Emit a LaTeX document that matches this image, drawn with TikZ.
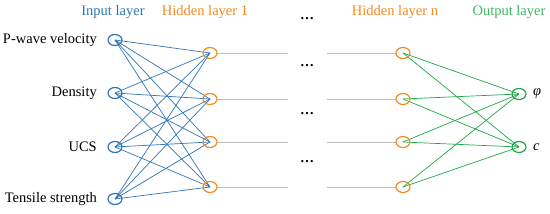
\documentclass[tikz,border=0pt]{standalone}
\usepackage{fontspec}
\setmainfont{Liberation Serif}
\usetikzlibrary{calc,shapes.geometric}
\definecolor{cblue}{HTML}{2E75B6}
\definecolor{corange}{HTML}{F58A1F}
\definecolor{cgreen}{HTML}{1FA646}
\definecolor{tgreen}{HTML}{3DB862}
\definecolor{cgray}{HTML}{BFBFBF}
\begin{document}
\begin{tikzpicture}[x=1pt,y=-1pt,
  neuron/.style={draw,line width=1.2pt,ellipse,minimum width=14pt,minimum height=11pt,inner sep=0pt},
  lbl/.style={font=\rmfamily\fontsize{14.5}{16}\selectfont,inner sep=0pt},
  hdr/.style={font=\rmfamily\fontsize{14.5}{16}\selectfont,inner sep=0pt},
  conn/.style={line width=0.7pt},
  dots/.style={font=\rmfamily\fontsize{14}{16}\selectfont,inner sep=0pt}]
\useasboundingbox (0,0) rectangle (550,214);
% headers
\node[hdr,text=cblue] (h0) at (113,12) {Input layer};
\node[hdr,text=corange] (h1) at (205,12) {Hidden layer 1};
\node[hdr,text=corange] (h2) at (395,12) {Hidden layer n};
\node[hdr,text=tgreen] (h3) at (509,12) {Output layer};
% centers
\foreach \i/\y in {1/40,2/93,3/147,4/199}{\coordinate (i\i) at (115,\y);}
\foreach \i/\y in {1/53,2/99,3/142,4/187}{\coordinate (a\i) at (210,\y); \coordinate (b\i) at (403,\y);}
\foreach \i/\y in {1/94,2/147}{\coordinate (o\i) at (519,\y);}
% connections
\foreach \i in {1,...,4}{\foreach \j in {1,...,4}{\draw[conn,cblue] (i\i) -- (a\j);}}
\foreach \i in {1,...,4}{\foreach \j in {1,2}{\draw[conn,cgreen] (b\i) -- (o\j);}}
% gray lines and dots
\foreach \i in {1,...,4}{
  \coordinate (g\i a) at ($(a\i)+(78,0)$);
  \coordinate (g\i b) at ($(a\i)+(117,0)$);
  \draw[cgray,line width=1pt] ($(a\i)+(7,0)$) -- (g\i a);
  \draw[cgray,line width=1pt] (g\i b) -- ($(b\i)+(-7,0)$);
}
\foreach \k/\y in {1/19,2/66,3/114,4/162}{\node[dots] (d\k) at (307,\y) {\textbf{…}};}
% neurons
\foreach \i in {1,...,4}{\node[neuron,cblue] (ni\i) at (i\i) {};}
\foreach \i in {1,...,4}{\node[neuron,corange] (na\i) at (a\i) {}; \node[neuron,corange] (nb\i) at (b\i) {};}
\foreach \i in {1,2}{\node[neuron,cgreen] (no\i) at (o\i) {};}
% labels
\node[lbl,anchor=east] (l1) at (97,40) {P-wave velocity};
\node[lbl,anchor=east] (l2) at (97,93) {Density};
\node[lbl,anchor=east] (l3) at (97,147) {UCS};
\node[lbl,anchor=east] (l4) at (97,199) {Tensile strength};
\node[lbl,anchor=west] (p1) at (533,94) {\textit{φ}};
\node[lbl,anchor=west] (p2) at (533,147) {\textit{c}};
\end{tikzpicture}
\end{document}
